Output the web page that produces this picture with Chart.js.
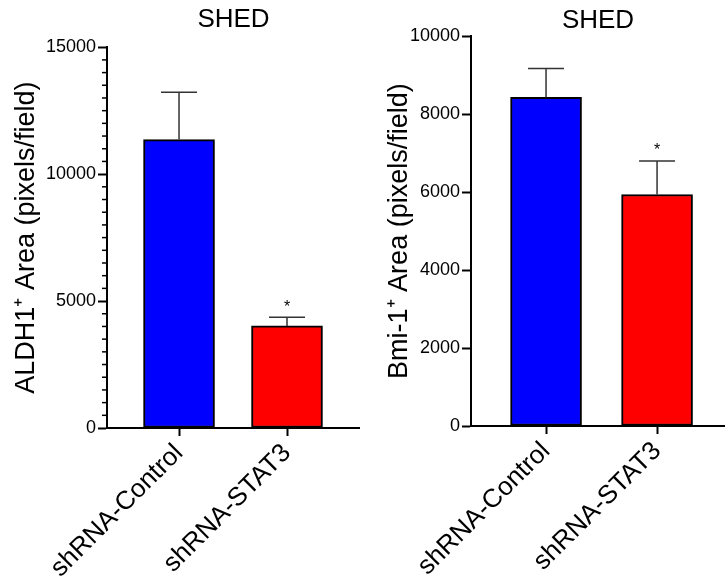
<!DOCTYPE html>
<html>
<head>
<meta charset="utf-8">
<script src="https://cdn.jsdelivr.net/npm/chart.js@4.4.1/dist/chart.umd.min.js"></script>
<style>
  html, body { margin: 0; padding: 0; background: #fff; }
  body { width: 725px; height: 579px; position: relative; overflow: hidden; }
  .box { position: absolute; top: 0; height: 579px; }
  #b1 { left: 0; width: 360px; }
  #b2 { left: 360px; width: 365px; }
</style>
</head>
<body>
<div class="box" id="b1"><canvas id="c1"></canvas></div>
<div class="box" id="b2"><canvas id="c2"></canvas></div>
<script>
// ---- data ----
const categories = ['shRNA-Control', 'shRNA-STAT3'];
const aldh1Means = [11360, 4020];
const aldh1Errors = [1870, 340];
const bmi1Means = [8430, 5940];
const bmi1Errors = [740, 860];
const significance = ['', '*'];
const aldh1Ticks = [0, 5000, 10000, 15000];
const bmi1Ticks = [0, 2000, 4000, 6000, 8000, 10000];
const chartTitle = 'SHED';
const aldh1Label = 'ALDH1\u207A Area (pixels/field)';
const bmi1Label = 'Bmi-1\u207A Area (pixels/field)';
const barColors = ['#0000FF', '#FF0000'];

const FONT = "'Liberation Sans', Arial, Helvetica, sans-serif";
Chart.defaults.font.family = FONT;
Chart.defaults.color = '#000';

const errorBarPlugin = {
  id: 'errorBars',
  afterDatasetsDraw(chart, args, opts) {
    const ctx = chart.ctx;
    const meta = chart.getDatasetMeta(0);
    const ys = chart.scales.y;
    ctx.save();
    meta.data.forEach((el, i) => {
      const top = ys.getPixelForValue(opts.means[i] + opts.errors[i]);
      const half = opts.capWidth / 2;
      ctx.strokeStyle = '#333';
      ctx.lineWidth = 1.5;
      ctx.beginPath();
      ctx.moveTo(el.x, el.y);
      ctx.lineTo(el.x, top);
      ctx.moveTo(el.x - half, top);
      ctx.lineTo(el.x + half, top);
      ctx.stroke();
      if (opts.marks[i]) {
        ctx.fillStyle = '#000';
        ctx.font = '16px ' + FONT;
        ctx.textAlign = 'center';
        ctx.textBaseline = 'bottom';
        ctx.fillText(opts.marks[i], el.x, top - 2);
      }
    });
    ctx.restore();
  }
};

const minorTickPlugin = {
  id: 'minorTicks',
  afterDraw(chart, args, opts) {
    if (!opts.step) return;
    const ys = chart.scales.y;
    const ctx = chart.ctx;
    const x0 = chart.chartArea.left;
    ctx.save();
    ctx.strokeStyle = '#000';
    ctx.lineWidth = 1.5;
    for (let v = ys.min; v <= ys.max; v += opts.step) {
      if (v % opts.major === 0) continue;
      const y = ys.getPixelForValue(v);
      ctx.beginPath();
      ctx.moveTo(x0 - opts.length, y);
      ctx.lineTo(x0, y);
      ctx.stroke();
    }
    ctx.restore();
  }
};

function makeChart(id, cfg) {
  return new Chart(document.getElementById(id), {
    type: 'bar',
    data: {
      datasets: [{
        data: cfg.means.map((v, i) => ({ x: i, y: v })),
        backgroundColor: barColors,
        borderColor: '#000',
        borderWidth: 2,
        borderSkipped: false,
        barThickness: 71
      }]
    },
    options: {
      responsive: true,
      maintainAspectRatio: false,
      animation: false,
      layout: { padding: { left: 0, right: 0, top: 0, bottom: 0 } },
      plugins: {
        legend: { display: false },
        tooltip: { enabled: false },
        title: {
          display: true,
          text: chartTitle,
          fullSize: false,
          font: { size: 26, weight: 'normal', lineHeight: 1.2 },
          color: '#000',
          padding: { top: cfg.titleTop, bottom: cfg.titleBottom }
        },
        errorBars: { means: cfg.means, errors: cfg.errors, marks: significance, capWidth: 36 },
        minorTicks: cfg.minor
      },
      scales: {
        x: {
          type: 'linear',
          min: cfg.xMin,
          max: cfg.xMax,
          offset: false,
          afterBuildTicks: (s) => { s.ticks = categories.map((_, i) => ({ value: i })); },
          afterFit: (s) => { s.height = cfg.xHeight; },
          ticks: {
            autoSkip: false,
            minRotation: 45,
            maxRotation: 45,
            padding: 2,
            color: '#000',
            font: { size: 26 },
            callback: (v) => categories[v]
          },
          grid: { offset: false, drawOnChartArea: false, drawTicks: true, tickLength: 8, tickWidth: 2, tickColor: '#000' },
          border: { display: true, color: '#000', width: 2 }
        },
        y: {
          min: cfg.yTicks[0],
          max: cfg.yTicks[cfg.yTicks.length - 1],
          afterBuildTicks: (s) => { s.ticks = cfg.yTicks.map(v => ({ value: v })); },
          afterFit: (s) => { s.width = cfg.yWidth; },
          ticks: { padding: 2, color: '#000', font: { size: 18 }, callback: (v) => String(v) },
          grid: { drawOnChartArea: false, drawTicks: true, tickLength: 9, tickWidth: 2, tickColor: '#000' },
          border: { display: true, color: '#000', width: 2 },
          title: {
            display: true,
            text: cfg.yLabel,
            color: '#000',
            font: { size: 27, lineHeight: 1.2 },
            padding: { top: cfg.yTitlePad, bottom: 0 }
          }
        }
      }
    },
    plugins: [errorBarPlugin, minorTickPlugin]
  });
}

makeChart('c1', {
  means: aldh1Means, errors: aldh1Errors, yTicks: aldh1Ticks, yLabel: aldh1Label,
  yWidth: 107, xHeight: 151, titleTop: 4, titleBottom: 12, yTitlePad: 10,
  xMin: -0.667, xMax: 1.676,
  minor: { step: 500, major: 5000, length: 5 }
});
makeChart('c2', {
  means: bmi1Means, errors: bmi1Errors, yTicks: bmi1Ticks, yLabel: bmi1Label,
  yWidth: 111, xHeight: 153, titleTop: 5, titleBottom: 0, yTitlePad: 23,
  xMin: -0.676, xMax: 1.612,
  minor: { step: 0 }
});
</script>
</body>
</html>
